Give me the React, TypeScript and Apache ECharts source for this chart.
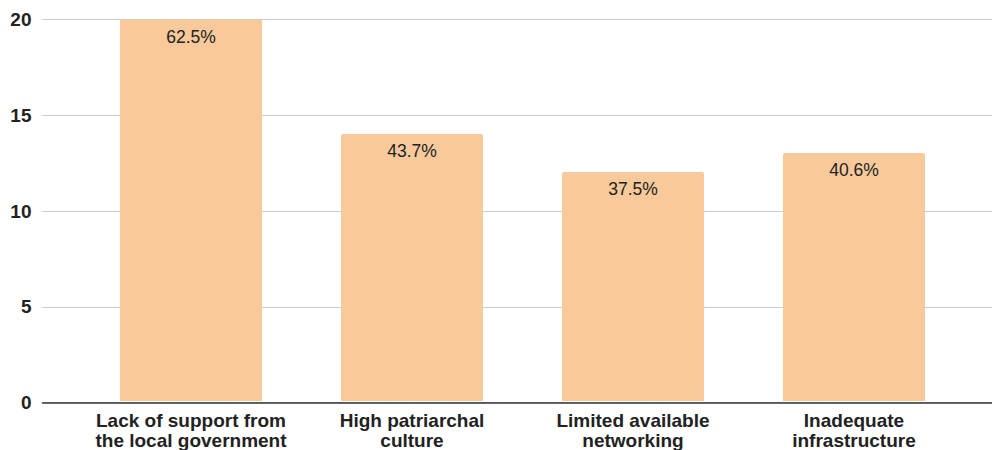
import React, { useEffect, useRef } from "react";
import * as echarts from "echarts";

const categories = [
  "Lack of support from\nthe local government",
  "High patriarchal\nculture",
  "Limited available\nnetworking",
  "Inadequate\ninfrastructure",
];
const values = [20, 14, 12, 13];
const percentLabels = ["62.5%", "43.7%", "37.5%", "40.6%"];

const FONT = "'Liberation Sans', Arial, sans-serif";

export default function App() {
  const ref = useRef<HTMLDivElement>(null);
  useEffect(() => {
    if (!ref.current) return;
    const chart = echarts.init(ref.current, null, { renderer: "svg" });
    chart.setOption({
      animation: false,
      grid: [
        { left: 80.5, right: 27.5, top: 19.5, bottom: 47.5 },
        { left: 42.5, right: 0, top: 19.5, bottom: 47.5 },
      ],
      xAxis: [
        {
          type: "category",
          gridIndex: 0,
          data: categories,
          axisLine: { show: false },
          axisTick: { show: false },
          axisLabel: {
            color: "#222",
            fontWeight: "bold",
            fontSize: 19,
            fontFamily: FONT,
            lineHeight: 19.5,
            margin: 10,
            interval: 0,
          },
        },
        {
          type: "value",
          gridIndex: 1,
          min: 0,
          max: 1,
          axisLine: { show: true, onZero: false, lineStyle: { color: "#333", width: 1.5 } },
          axisTick: { show: false },
          axisLabel: { show: false },
          splitLine: { show: false },
        },
      ],
      yAxis: [
        {
          type: "value",
          gridIndex: 0,
          min: 0,
          max: 20,
          interval: 5,
          axisLine: { show: false },
          axisTick: { show: false },
          axisLabel: { show: false },
          splitLine: { show: false },
        },
        {
          type: "value",
          gridIndex: 1,
          min: 0,
          max: 20,
          interval: 5,
          axisLine: { show: false },
          axisTick: { show: false },
          axisLabel: {
            color: "#222",
            fontWeight: "bold",
            fontSize: 19,
            fontFamily: FONT,
            margin: 11,
          },
          splitLine: { show: true, lineStyle: { color: "#cccccc", width: 1 } },
        },
      ],
      series: [
        {
          type: "bar",
          xAxisIndex: 0,
          yAxisIndex: 0,
          data: values,
          barWidth: 142,
          z: 3,
          itemStyle: { color: "#f8c99b", borderRadius: [2, 2, 0, 0] },
          label: {
            show: true,
            position: "insideTop",
            distance: 8,
            color: "#222",
            fontSize: 17.5,
            fontFamily: FONT,
            formatter: (p: any) => percentLabels[p.dataIndex],
          },
        },
      ],
    });
    return () => chart.dispose();
  }, []);
  return <div ref={ref} style={{ width: 992, height: 450, position: "absolute", left: 0, top: 0 }} />;
}
